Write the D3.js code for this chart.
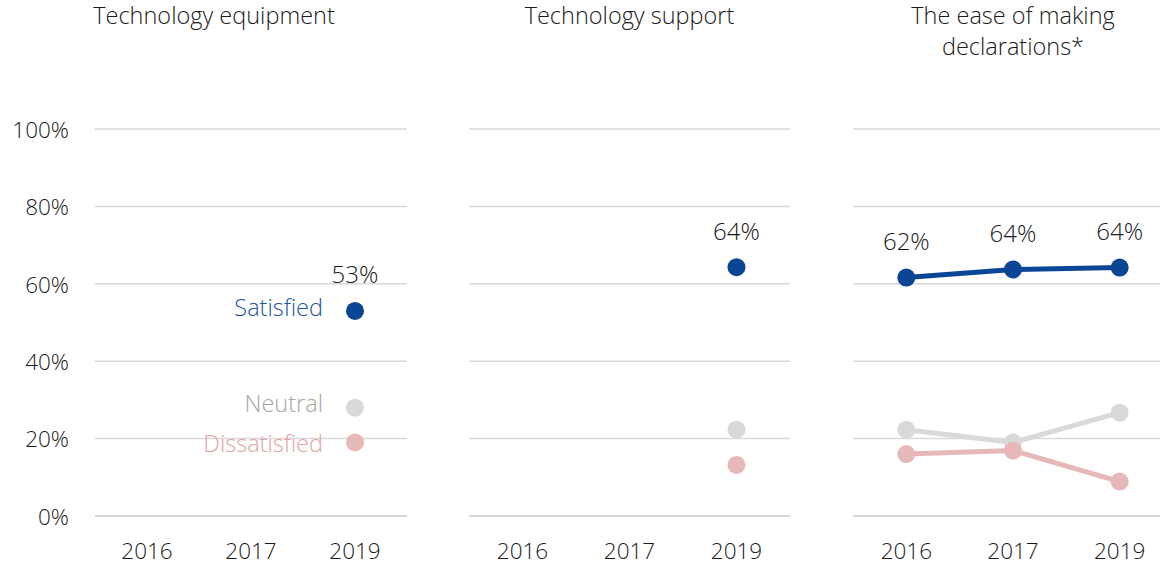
<!DOCTYPE html>
<html><head><meta charset="utf-8">
<script src="https://cdn.jsdelivr.net/npm/d3@7"></script>
<style>
body{margin:0;background:#fff;}
svg text{font-family:"Open Sans","Segoe UI",sans-serif;font-weight:300;}
</style></head>
<body><svg id="c" width="1160" height="565"></svg>
<script>
const years = ["2016","2017","2019"];
const panelTitles = [["Technology equipment"],["Technology support"],["The ease of making","declarations*"]];
const seriesNames = ["Satisfied","Neutral","Dissatisfied"];
const yTicks = [0,20,40,60,80,100];
// values per panel, per series (null = no data)
const equipSatisfied = [null,null,53];
const equipNeutral = [null,null,28];
const equipDissatisfied = [null,null,19];
const supportSatisfied = [null,null,64.3];
const supportNeutral = [null,null,22.3];
const supportDissatisfied = [null,null,13.2];
const easeSatisfied = [61.6,63.7,64.2];
const easeNeutral = [22.3,19.0,26.7];
const easeDissatisfied = [16.0,16.9,8.9];
const satisfiedLabels = [[null,null,"53%"],[null,null,"64%"],["62%","64%","64%"]];

const panels = [
  [equipSatisfied,equipNeutral,equipDissatisfied],
  [supportSatisfied,supportNeutral,supportDissatisfied],
  [easeSatisfied,easeNeutral,easeDissatisfied]
];
const colors = ["#0b4596","#d9d9d9","#e6b9b8"];
const legendColors = ["#1f54a0","#a6a6a6","#e0a4a3"];
const panelX = [[95,407],[469,790],[853,1173]];
const titleX = [214, null, null];
const txt = "#1a1a1a";

const svg = d3.select("#c");
const y = d3.scaleLinear().domain([0,100]).range([516,129]);

// y axis labels
svg.append("g").selectAll("text").data(yTicks).join("text")
  .attr("x",69).attr("y",d=>y(d)+1).attr("dy","0.35em")
  .attr("text-anchor","end").attr("font-size",22.5).attr("fill",txt)
  .text(d=>d+"%");

panels.forEach((series,pi)=>{
  const x = d3.scaleBand().domain(years).range(panelX[pi]);
  const cx = d=>x(d)+x.bandwidth()/2;
  const g = svg.append("g");
  // gridlines
  g.selectAll("line.grid").data(yTicks).join("line")
    .attr("x1",panelX[pi][0]).attr("x2",panelX[pi][1])
    .attr("y1",d=>y(d)).attr("y2",d=>y(d))
    .attr("stroke","#d9d9d9").attr("stroke-width",d=>d===0?2:1.5);
  // x labels
  g.selectAll("text.xl").data(years).join("text")
    .attr("x",cx).attr("y",551).attr("dy","0.35em")
    .attr("text-anchor","middle").attr("font-size",22.5).attr("fill",txt)
    .text(d=>d);
  // title
  const tcx = titleX[pi]!==null ? titleX[pi] : cx(years[1]);
  g.selectAll("text.title").data(panelTitles[pi]).join("text")
    .attr("x",tcx).attr("y",(d,i)=>16+i*31).attr("dy","0.35em")
    .attr("text-anchor","middle").attr("font-size",23.5).attr("fill",txt)
    .text(d=>d);
  // series: draw in order neutral, dissatisfied, satisfied
  [1,2,0].forEach(si=>{
    const vals = series[si];
    const pts = years.map((yr,i)=>({yr,v:vals[i]})).filter(p=>p.v!==null);
    const line = d3.line().x(p=>cx(p.yr)).y(p=>y(p.v));
    if(pts.length>1){
      g.append("path").attr("d",line(pts)).attr("fill","none")
        .attr("stroke",colors[si]).attr("stroke-width",5);
    }
    g.selectAll(null).data(pts).join("circle")
      .attr("cx",p=>cx(p.yr)).attr("cy",p=>y(p.v)).attr("r",9)
      .attr("fill",colors[si]);
  });
  // satisfied labels
  const lbls = years.map((yr,i)=>({yr,v:series[0][i],t:satisfiedLabels[pi][i]})).filter(p=>p.t);
  g.selectAll("text.dl").data(lbls).join("text")
    .attr("x",p=>cx(p.yr)).attr("y",p=>y(p.v)-36).attr("dy","0.35em")
    .attr("text-anchor","middle").attr("font-size",24).attr("fill",txt)
    .text(p=>p.t);
  // legend labels in first panel
  if(pi===0){
    const lx = cx(years[2]) - 32;
    const dy = [-3,-4,1];
    g.selectAll("text.lg").data(seriesNames).join("text")
      .attr("x",lx).attr("y",(d,i)=>y(series[i][2])+dy[i]).attr("dy","0.35em")
      .attr("text-anchor","end").attr("font-size",23.5)
      .attr("fill",(d,i)=>legendColors[i])
      .text(d=>d);
  }
});
</script></body></html>
